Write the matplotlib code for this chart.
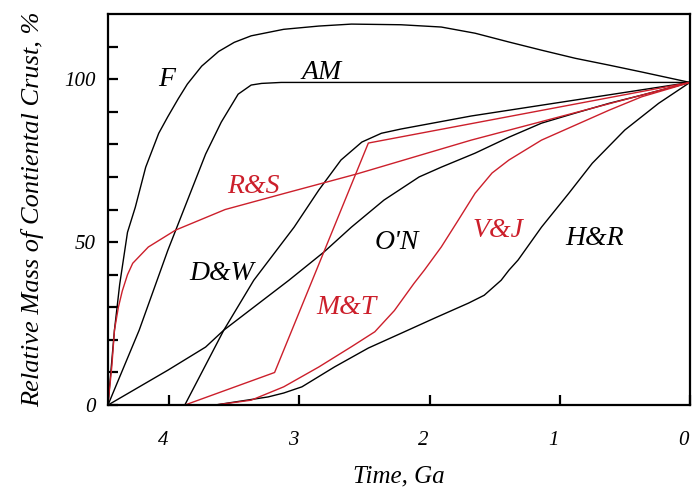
import matplotlib
matplotlib.use('Agg')
import matplotlib.pyplot as plt
import matplotlib.transforms as mtransforms

# time (Ga) and relative mass (%)
f_t = [4.47, 4.42, 4.38, 4.32, 4.26, 4.18, 4.08, 4.01, 3.93, 3.86, 3.75, 3.62, 3.5, 3.37,
       3.12, 2.85, 2.6, 2.22, 1.91, 1.65, 1.39, 1.14, 0.88, 0.62, 0.37, 0.0]
f_m = [0, 23, 37, 53, 60.7, 73, 83.4, 88.5, 94, 98.5, 104, 108.5, 111.3, 113.3,
       115.3, 116.3, 116.9, 116.7, 116, 114.1, 111.4, 108.9, 106.4, 104.3, 102.2, 99]

am_t = [4.47, 4.23, 4.01, 3.72, 3.6, 3.47, 3.37, 3.29, 3.14, 0.0]
am_m = [0, 23, 47.5, 77, 86.8, 95.4, 98.2, 98.7, 99, 99]

rs_t = [4.47, 4.44, 4.42, 4.39, 4.36, 4.32, 4.28, 4.16, 3.95, 3.57, 3.11, 2.56, 1.68, 0.0]
rs_m = [0, 12, 23, 30, 35, 40, 43.5, 48.5, 53.7, 60, 65, 70.9, 81.3, 99]

dw_t = [3.88, 3.58, 3.35, 3.04, 2.85, 2.68, 2.52, 2.37, 2.22, 1.68, 0.0]
dw_m = [0, 23, 38.3, 54.6, 66, 75.2, 80.7, 83.4, 84.7, 88.7, 99]

on_t = [4.47, 4.01, 3.72, 3.58, 3.08, 2.81, 2.6, 2.35, 2.08, 1.91, 1.65, 1.39, 1.14,
        0.88, 0.62, 0.37, 0.0]
on_m = [0, 10.7, 17.8, 23, 38.3, 47, 54.6, 62.9, 70, 73, 77.3, 82.2, 86.5,
        89.6, 92.6, 95.1, 99]

mt_t = [3.88, 3.19, 2.47, 0.0]
mt_m = [0, 10, 80.4, 99]

vj_t = [3.65, 3.37, 3.12, 2.85, 2.6, 2.42, 2.27, 2.12, 2.04, 1.91, 1.78, 1.65, 1.52,
        1.39, 1.14, 0.88, 0.62, 0.37, 0.115, 0.0]
vj_m = [0, 1.5, 5.6, 11.7, 17.9, 22.5, 29, 37.3, 41.4, 48.5, 56.7, 65, 71.2,
        75.2, 81.3, 85.9, 90.5, 94.6, 97.6, 99]

hr_t = [3.65, 3.24, 3.12, 2.98, 2.73, 2.47, 2.22, 1.96, 1.7, 1.58, 1.45, 1.39, 1.32,
        1.14, 0.93, 0.75, 0.5, 0.24, 0.0]
hr_m = [0, 2.5, 3.7, 5.6, 11.7, 17.5, 22, 26.7, 31.3, 33.7, 38.3, 41.4, 44.5,
        54.6, 65, 74.2, 84.4, 92.6, 99]

red = '#cc1f2b'
font = 'Liberation Serif'

fig = plt.figure(figsize=(6.92, 4.91), dpi=100)
ax = fig.add_axes([0.156, 0.175, 0.841, 0.7965])

for t, m in [(f_t, f_m), (am_t, am_m), (dw_t, dw_m), (on_t, on_m), (hr_t, hr_m)]:
    ax.plot(t, m, color='black', lw=1.0, solid_joinstyle='round')
for t, m in [(rs_t, rs_m), (mt_t, mt_m), (vj_t, vj_m)]:
    ax.plot(t, m, color=red, lw=1.0, solid_joinstyle='round')

lab = dict(fontsize=20, style='italic', family=font, ha='center', va='center')
ax.text(4.02, 100, 'F', color='black', **lab)
ax.text(2.83, 102, 'AM', color='black', **lab)
ax.text(3.35, 67, 'R&S', color=red, **lab)
ax.text(3.6, 40.5, 'D&W', color='black', **lab)
ax.text(2.25, 50, "O'N", color='black', **lab)
ax.text(2.64, 29.8, 'M&T', color=red, **lab)
ax.text(1.47, 53.7, 'V&J', color=red, **lab)
ax.text(0.73, 51.2, 'H&R', color='black', **lab)

ax.set_xlim(4.47, 0)
ax.set_ylim(0, 120)

ax.set_yticks(range(0, 120, 10))
ax.set_yticklabels(['0', '', '', '', '', '50', '', '', '', '', '100', ''])
ax.set_xticks([4, 3, 2, 1, 0])
ax.set_xticklabels(['4', '3', '2', '1', '0'])

ax.tick_params(direction='in', length=7, width=1.6, top=False, right=False,
               labelsize=15)
ax.tick_params(axis='y', pad=9)
ax.tick_params(axis='x', pad=19)
shift = mtransforms.ScaledTranslation(-6 / 100, 0, fig.dpi_scale_trans)
for lbl in ax.get_xticklabels():
    lbl.set_transform(lbl.get_transform() + shift)
for lbl in ax.get_xticklabels() + ax.get_yticklabels():
    lbl.set_family(font)
    lbl.set_style('italic')

for s in ax.spines.values():
    s.set_linewidth(1.6)

ax.set_xlabel('Time, Ga', fontsize=18, family=font, style='italic', labelpad=11)
ax.set_ylabel('Relative Mass of Contiental Crust, %', fontsize=19, family=font,
              style='italic', labelpad=14)

fig.savefig('out.png', dpi=100)
